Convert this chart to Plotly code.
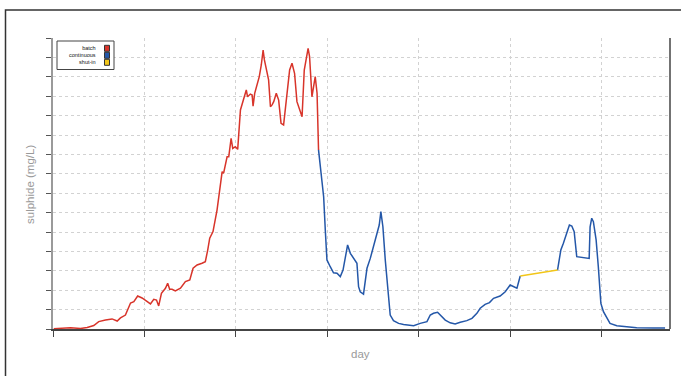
import plotly.graph_objects as go

# ---- data (day, sulphide mg/L) ----
batch_day = [0.4, 9.6, 15.0, 18.7, 22.3, 25.0, 28.7, 32.3, 35.1, 36.9, 39.6, 42.4, 44.2, 46.3, 48.7,
             51.5, 53.3, 55.1, 56.6, 57.8, 59.3, 61.5, 62.7, 63.8, 65.1, 66.9, 69.7, 72.4, 74.8, 76.6,
             78.8, 81.5, 83.3, 84.6, 85.7, 87.5, 89.7, 92.5, 93.3, 95.2, 96.1, 97.4, 98.3, 99.7, 101.0,
             102.5, 104.3, 105.7, 106.4, 107.9, 108.9, 109.4, 110.3, 111.6, 112.8, 113.9, 114.9, 115.6,
             116.7, 117.9, 118.9, 119.8, 120.7, 122.1, 123.4, 124.7, 126.1, 128.0, 129.4, 130.7, 132.1,
             133.4, 134.9, 136.2, 137.4, 138.9, 139.5, 140.3, 141.6, 142.5, 143.4, 144.4, 145.2]
batch_val = [0.15, 0.67, 0.26, 0.77, 1.8, 3.8, 4.6, 5.2, 4.1, 5.7, 7.2, 13.4, 14.1, 17.0, 16.0,
             14.1, 12.9, 15.3, 14.9, 11.9, 18.4, 21.0, 23.6, 20.5, 20.5, 19.6, 21.0, 24.4, 25.3, 31.3,
             33.0, 33.9, 34.7, 40.7, 46.8, 50.2, 61.3, 81.1, 80.3, 88.8, 88.8, 98.3, 93.1, 94.0, 92.6,
             112.9, 118.9, 123.2, 119.7, 121.1, 120.6, 114.9, 121.5, 125.8, 130.1, 136.1, 143.8, 138.7,
             134.4, 128.4, 114.6, 115.5, 117.2, 121.5, 118.0, 106.0, 105.2, 123.2, 133.5, 137.0, 131.8,
             117.2, 112.9, 109.4, 133.5, 142.1, 144.7, 140.4, 119.7, 124.9, 130.1, 121.5, 92.3]

cont_day = [145.2, 147.1, 148.0, 148.9, 149.8, 151.6, 153.4, 155.3, 157.1, 158.6, 159.8, 161.1, 162.6,
            164.4, 166.2, 167.1, 168.0, 169.8, 171.7, 173.5, 175.3, 177.2, 178.4, 179.3, 180.4, 181.7,
            183.0, 184.4, 186.2, 189.0, 191.7, 193.6, 197.2, 200.8, 204.5, 206.3, 208.1, 210.3, 211.8,
            214.5, 217.2, 219.9, 222.7, 226.3, 229.1, 231.8, 233.6, 236.3, 238.7, 240.9, 244.5, 247.3,
            250.0, 251.8, 253.7, 255.5,
            None,
            275.9, 277.7, 279.1, 280.6, 281.3, 282.4, 283.7, 285.0, 286.4, 290.0, 293.2, 293.7, 294.6,
            295.5, 297.0, 298.2, 299.6, 301.0, 302.8, 304.6, 308.3, 313.8, 319.2, 328.3, 334.7]
cont_val = [92.3, 76.8, 68.2, 51.0, 35.6, 32.1, 29.0, 28.7, 27.0, 30.4, 37.3, 43.3, 39.0,
            36.4, 33.9, 21.8, 19.2, 18.0, 31.3, 36.4, 42.4, 48.5, 53.6, 60.5, 52.7, 35.6,
            20.1, 7.2, 4.3, 2.9, 2.3, 2.1, 1.7, 2.9, 3.8, 7.2, 8.1, 8.6, 7.2,
            4.6, 3.2, 2.6, 3.5, 4.3, 5.5, 8.1, 10.7, 12.7, 13.6, 15.8, 17.0, 19.2,
            22.7, 21.9, 21.0, 27.3,
            None,
            30.4, 40.7, 44.2, 48.5, 50.2, 53.6, 53.1, 50.2, 37.3, 36.8, 36.4, 52.7, 57.1,
            55.3, 45.9, 32.1, 13.2, 8.9, 5.5, 2.9, 1.7, 1.2, 0.7, 0.5, 0.5]

shut_day = [255.5, 275.9]
shut_val = [27.3, 30.4]

legend_names = ["batch", "continuous", "shut-in"]
RED, BLUE, YELLOW = "#d8342a", "#2457a8", "#f2c618"
legend_colors = [RED, BLUE, YELLOW]

fig = go.Figure()
fig.add_trace(go.Scatter(x=batch_day, y=batch_val, mode="lines", name="batch",
                         line=dict(color=RED, width=1.5)))
fig.add_trace(go.Scatter(x=cont_day, y=cont_val, mode="lines", name="continuous",
                         line=dict(color=BLUE, width=1.5), connectgaps=False))
fig.add_trace(go.Scatter(x=shut_day, y=shut_val, mode="lines", name="shut-in",
                         line=dict(color=YELLOW, width=1.5)))

L, R, T, B = 53, 11, 38, 47
W, H = 681, 376
pw, ph = W - L - R, H - T - B

def px(x):
    return (x - L) / pw

def py(y):
    return (H - B - y) / ph

shapes = [
    # outer frame (extends beyond the view to right/bottom)
    dict(type="rect", xref="paper", yref="paper", x0=px(5.5), x1=px(700), y0=py(400), y1=py(10),
         line=dict(color="#333333", width=1.5), fillcolor="rgba(0,0,0,0)", layer="below"),
    # right border of plot
    dict(type="line", xref="paper", yref="paper", x0=1, x1=1, y0=0, y1=1,
         line=dict(color="#444444", width=1.5)),
    # legend box
    dict(type="rect", xref="paper", yref="paper", x0=px(57), x1=px(114), y0=py(69.5), y1=py(41),
         line=dict(color="#444444", width=1), fillcolor="white", layer="above"),
]
rows_y = [48.3, 55.3, 62.3]
for col, yy in zip(legend_colors, rows_y):
    shapes.append(dict(type="rect", xref="paper", yref="paper", x0=px(104.5), x1=px(109.5),
                       y0=py(yy + 3), y1=py(yy - 3), line=dict(color="#333333", width=1),
                       fillcolor=col, layer="above"))

annotations = [
    dict(text="<br>".join(legend_names), xref="paper", yref="paper", x=px(97.5), y=py(55.3),
         xanchor="right", yanchor="middle", align="right", showarrow=False,
         font=dict(family="Liberation Sans, Arial", size=5.5, color="#111111")),
    dict(text="sulphide (mg/L)", xref="paper", yref="paper", x=px(30), y=py(185),
         textangle=-90, xanchor="center", yanchor="middle", showarrow=False,
         font=dict(family="Liberation Sans, Arial", size=11.5, color="#9a9a9a")),
    dict(text="day", xref="paper", yref="paper", x=px(360), y=py(354),
         xanchor="center", yanchor="middle", showarrow=False,
         font=dict(family="Liberation Sans, Arial", size=11.5, color="#9a9a9a")),
]

fig.update_layout(
    width=W, height=H, margin=dict(l=L, r=R, t=T, b=B),
    plot_bgcolor="white", paper_bgcolor="white", showlegend=False,
    shapes=shapes, annotations=annotations,
    xaxis=dict(range=[0, 337.4], dtick=50, tick0=0, showticklabels=False,
               showgrid=True, gridcolor="#d2d2d2", griddash="dot", gridwidth=1,
               showline=True, linecolor="#444444", linewidth=1.5,
               ticks="outside", ticklen=6, tickcolor="#444444", zeroline=False),
    yaxis=dict(range=[0, 150], dtick=10, tick0=0, showticklabels=False,
               showgrid=True, gridcolor="#d2d2d2", griddash="dot", gridwidth=1,
               showline=True, linecolor="#9a9a9a", linewidth=2,
               ticks="outside", ticklen=5, tickcolor="#555555", zeroline=False),
)

fig.write_html("out.html", config={"displayModeBar": False},
               post_script="document.body.style.margin='0';document.body.style.overflow='hidden';")
